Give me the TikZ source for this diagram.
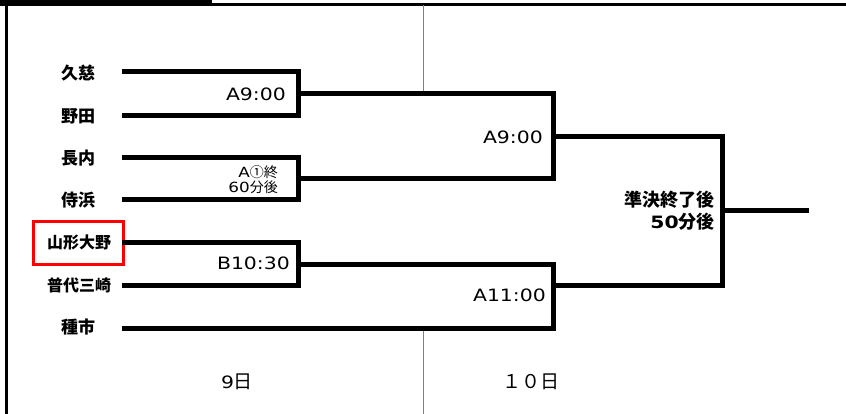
\documentclass[tikz,border=0pt]{standalone}
\usepackage{fontspec}
\setmainfont{Noto Sans CJK JP}
\newfontfamily\jp{Noto Sans CJK JP}
\newfontfamily\lat[FakeStretch=1.2]{DejaVu Sans}
\begin{document}
\begin{tikzpicture}[x=1pt,y=-1pt,
  br/.style={line width=5pt,line cap=rect},
  team/.style={font=\jp\fontsize{17}{17}\selectfont\bfseries,anchor=center,inner sep=0pt},
  lbl/.style={font=\lat\fontsize{17}{17}\selectfont,anchor=east,inner sep=0pt},
  dayl/.style={font=\jp\fontsize{19}{19}\selectfont,anchor=center,inner sep=0pt}]
\useasboundingbox (0,0) rectangle (846,414);
\fill[white] (0,0) rectangle (846,414);
% frame
\draw[line width=2.5pt] (0,4.3) -- (846,4.3);
\fill[black] (0,0) rectangle (212,5);
\draw[line width=3pt] (6.5,4) -- (6.5,414);
% gray divider
\coordinate (g1) at (423,5);
\coordinate (g2) at (423,93);
\coordinate (g3) at (423,328);
\coordinate (g4) at (423,414);
\draw[gray,line width=1pt] (g1) -- (g2);
\draw[gray,line width=1pt] (g3) -- (g4);
% teams
\node[team] (t1) at (78,73) {久慈};
\node[team] (t2) at (78,116) {野田};
\node[team] (t3) at (78,158) {長内};
\node[team] (t4) at (78,200) {侍浜};
\node[team,font=\jp\fontsize{16}{16}\selectfont\bfseries] (t5) at (79,242) {山形大野};
\node[team,font=\jp\fontsize{16}{16}\selectfont\bfseries] (t6) at (79,285) {普代三崎};
\node[team] (t7) at (78,327) {種市};
\node[draw=red,line width=2.2pt,minimum width=90pt,minimum height=43pt,inner sep=0pt] (rb) at (78.5,243) {};
% line endpoints
\coordinate (s1) at (124,72);
\coordinate (s2) at (124,116);
\coordinate (s3) at (124,158);
\coordinate (s4) at (124,200);
\coordinate (s5) at (124,243);
\coordinate (s6) at (124,285);
\coordinate (s7) at (124,328);
\coordinate (m1) at (298,94);
\coordinate (m2) at (298,179);
\coordinate (m3) at (298,264);
\coordinate (q1) at (553,137);
\coordinate (q2) at (553,285);
\coordinate (f1) at (722,211);
\coordinate (fe) at (806,211);
% first round
\draw[br] (s1) -- (s1 -| m1) -- (s2 -| m1) -- (s2);
\draw[br] (s3) -- (s3 -| m2) -- (s4 -| m2) -- (s4);
\draw[br] (s5) -- (s5 -| m3) -- (s6 -| m3) -- (s6);
% second round
\draw[br] (m1) -- (m1 -| q1) -- (m2 -| q1) -- (m2);
\draw[br] (m3) -- (m3 -| q2) -- (s7 -| q2) -- (s7);
% final
\draw[br] (q1) -- (q1 -| f1) -- (q2 -| f1) -- (q2);
\draw[br] (f1) -- (fe);
% labels
\node[lbl] (l1) at (286,94) {A9:00};
\node[lbl,align=right,font=\jp\fontsize{14}{15}\selectfont] (l2) at (278,180) {{\lat\fontsize{14}{15}\selectfont A}①終\\{\lat\fontsize{14}{15}\selectfont 60}分後};
\node[lbl] (l3) at (290,263) {B10:30};
\node[lbl] (l4) at (543,137) {A9:00};
\node[lbl] (l5) at (546,295) {A11:00};
\node[lbl,align=right,font=\jp\fontsize{18}{22}\selectfont\bfseries] (l6) at (715,211) {準決終了後\\{\lat\fontsize{17}{22}\selectfont 50}分後};
% days
\node[dayl] (d1) at (237,382) {{\lat\fontsize{17}{19}\selectfont 9}日};
\node[dayl] (d2) at (531,382) {１０日};
\end{tikzpicture}
\end{document}
